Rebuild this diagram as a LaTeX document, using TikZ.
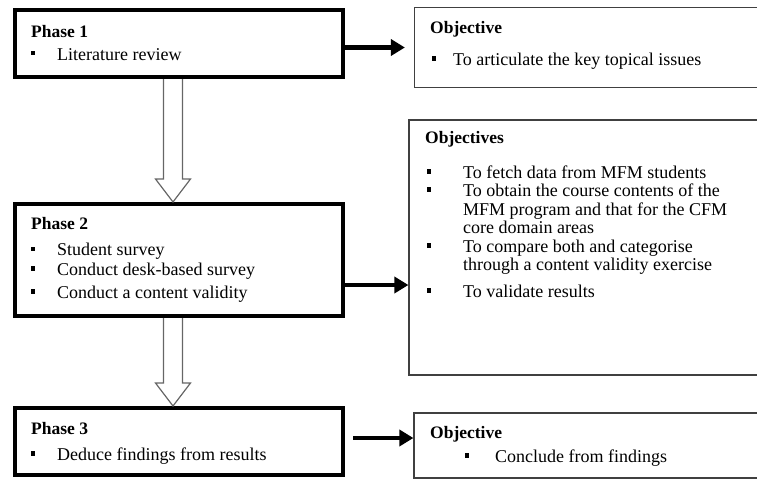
\documentclass[tikz,border=0pt]{standalone}
\usepackage{fontspec}
\setmainfont{Liberation Serif}
\usetikzlibrary{arrows.meta}
\begin{document}
\begin{tikzpicture}[x=1pt,y=-1pt,
 phase/.style={draw=black,line width=4pt,minimum width=328pt,inner sep=0pt},
 obj/.style={draw=black!75,line width=1.2pt,inner sep=0pt},
 txt/.style={anchor=base west,inner sep=0pt,font=\fontsize{18}{20}\selectfont},
 head/.style={anchor=base west,inner sep=0pt,font=\fontsize{17.5}{20}\selectfont\bfseries},
 blt/.style={fill=black,minimum size=4.5pt,inner sep=0pt},
 flow/.style={line width=4.5pt,-{Triangle[length=14pt,width=16pt]}},
 hollow/.style={draw=black!60,line width=1.2pt,line join=miter}]
\clip (0,0) rectangle (757,479);
% boxes
\node[phase,minimum height=67pt] (p1) at (179,43.5) {};
\node[phase,minimum height=112pt] (p2) at (179,260) {};
\node[phase,minimum height=67pt] (p3) at (179,441.5) {};
\node[obj,minimum width=355.5pt,minimum height=80pt] (o1) at (592.25,47.5) {};
\node[obj,minimum width=361pt,minimum height=255pt] (o2) at (589.5,247.5) {};
\node[obj,minimum width=356pt,minimum height=65pt] (o3) at (592,445.5) {};
% hollow arrows
\draw[hollow] ([xshift=-15.5pt]p1.south) -- ([xshift=-15.5pt,yshift=23pt]p2.north)
  -- ([xshift=-23.5pt,yshift=23pt]p2.north) -- ([xshift=-6pt]p2.north)
  -- ([xshift=11.5pt,yshift=23pt]p2.north) -- ([xshift=3.5pt,yshift=23pt]p2.north)
  -- ([xshift=3.5pt]p1.south);
\draw[hollow] ([xshift=-15.5pt]p2.south) -- ([xshift=-15.5pt,yshift=23pt]p3.north)
  -- ([xshift=-23.5pt,yshift=23pt]p3.north) -- ([xshift=-6pt]p3.north)
  -- ([xshift=11.5pt,yshift=23pt]p3.north) -- ([xshift=3.5pt,yshift=23pt]p3.north)
  -- ([xshift=3.5pt]p2.south);
% flow arrows
\draw[flow,shorten >=9pt] (p1.east |- o1.west) -- (o1.west);
\draw[flow] ([yshift=-25pt]p2.east) -- ([yshift=-25pt]p2.east -| o2.west);
\draw[flow] ([xshift=8pt,yshift=3.5pt]p3.east) -- ([yshift=3.5pt]p3.east -| o3.west);
% phase 1
\node[head] (h1) at (31,37) {Phase 1};
\node[blt] (b11) at (33,53) {};
\node[txt] (t11) at (57,60) {Literature review};
% phase 2
\node[head] (h2) at (31,229) {Phase 2};
\node[blt] (b21) at (33,249) {};
\node[txt] (t21) at (57,255.5) {Student survey};
\node[blt] (b22) at (33,268.5) {};
\node[txt] (t22) at (57,275) {Conduct desk-based survey};
\node[blt] (b23) at (33,291.5) {};
\node[txt] (t23) at (57,298) {Conduct a content validity};
% phase 3
\node[head] (h3) at (31,434) {Phase 3};
\node[blt] (b31) at (33,453.5) {};
\node[txt] (t31) at (57,460) {Deduce findings from results};
% objective 1
\node[head] (oh1) at (430,33) {Objective};
\node[blt] (ob11) at (434,58.5) {};
\node[txt] (ot11) at (453,65) {To articulate the key topical issues};
% objectives 2
\node[head] (oh2) at (425,143) {Objectives};
\node[blt] (ob21) at (429,171.5) {};
\node[txt] (ot21) at (463,178) {To fetch data from MFM students};
\node[blt] (ob22) at (429,189.5) {};
\node[txt] (ot22) at (463,196) {To obtain the course contents of the};
\node[txt] (ot23) at (463,215) {MFM program and that for the CFM};
\node[txt] (ot24) at (463,233) {core domain areas};
\node[blt] (ob23) at (429,245.5) {};
\node[txt] (ot25) at (463,252) {To compare both and categorise};
\node[txt] (ot26) at (463,270) {through a content validity exercise};
\node[blt] (ob24) at (429,290.5) {};
\node[txt] (ot27) at (463,297) {To validate results};
% objective 3
\node[head] (oh3) at (430,438) {Objective};
\node[blt] (ob31) at (467,455.5) {};
\node[txt] (ot31) at (495,462) {Conclude from findings};
\end{tikzpicture}
\end{document}
